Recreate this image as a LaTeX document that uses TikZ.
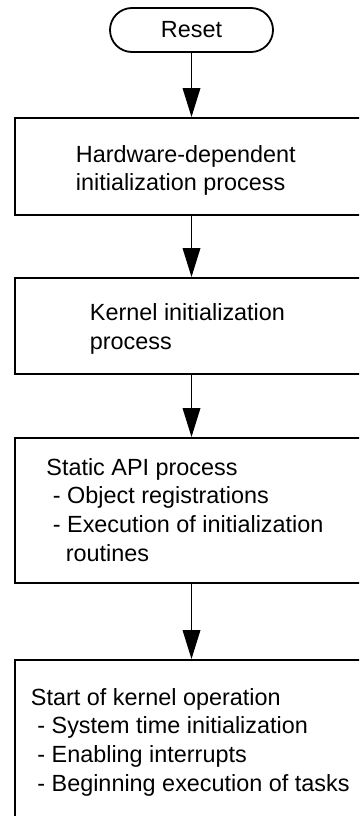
\documentclass[tikz,border=0pt]{standalone}
\usepackage{fontspec}
\setmainfont{Liberation Sans}
\usetikzlibrary{arrows.meta}

\begin{document}
\begin{tikzpicture}[x=1pt, y=-1pt,
  every node/.style={line width=1.8pt},
  procbox/.style={draw, rectangle, minimum width=353pt, inner sep=0pt},
  terminal/.style={draw, rectangle, rounded corners=22pt, minimum width=163pt, minimum height=44pt, inner sep=0pt,
    font=\fontsize{23.4}{28.8}\selectfont},
  lbl/.style={anchor=base west, inner sep=0pt, font=\fontsize{23.4}{28.8}\selectfont},
  flow/.style={line width=1.8pt, -{Triangle[length=29pt, width=17.5pt]}}]

  \clip (0,0) rectangle (359,816);
  \fill[white] (0,0) rectangle (359,816);

  % start terminal
  \node[terminal] (reset) at (191.5,30) {Reset};

  % process boxes
  \node[procbox, minimum height=97pt]  (hw)     at (191.5,166.5) {};
  \node[procbox, minimum height=96pt]  (kernel) at (191.5,326)   {};
  \node[procbox, minimum height=145pt] (sapi)   at (191.5,510.5) {};
  \node[procbox, minimum height=240pt] (start)  at (191.5,780)   {};

  % box texts
  \node[lbl] (hwtxt) at (75,162)
    {\begin{tabular}[t]{@{}l@{}}Hardware-dependent\\initialization process\end{tabular}};
  \node[lbl] (kerneltxt) at (89,320.5)
    {\begin{tabular}[t]{@{}l@{}}Kernel initialization\\process\end{tabular}};
  \node[lbl] (sapitxt) at (45.5,475)
    {\begin{tabular}[t]{@{}l@{}}Static API process\\~- Object registrations\\~- Execution of initialization\\~~~routines\end{tabular}};
  \node[lbl] (starttxt) at (30,705)
    {\begin{tabular}[t]{@{}l@{}}Start of kernel operation\\~- System time initialization\\~- Enabling interrupts\\~- Beginning execution of tasks\end{tabular}};

  % flow arrows
  \draw[flow] (reset.south)  -- (hw.north);
  \draw[flow] (hw.south)     -- (kernel.north);
  \draw[flow] (kernel.south) -- (sapi.north);
  \draw[flow] (sapi.south)   -- (start.north);
\end{tikzpicture}
\end{document}
